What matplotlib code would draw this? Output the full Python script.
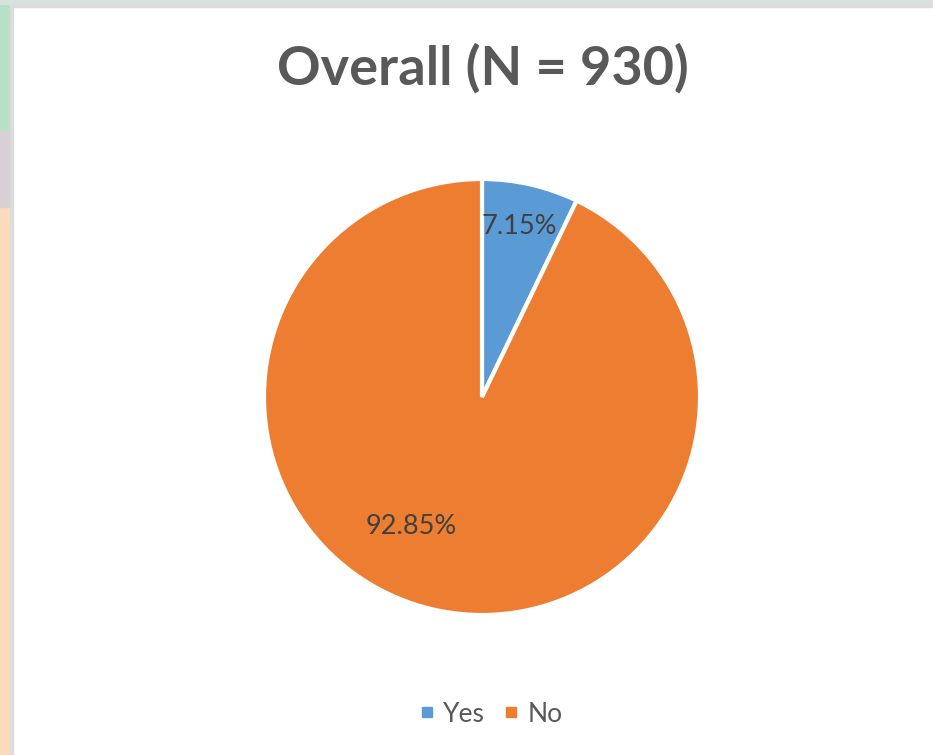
import matplotlib.pyplot as plt
from matplotlib.patches import Rectangle
from matplotlib.lines import Line2D

# survey answer shares (percent)
labels = ["Yes", "No"]
shares = [7.15, 92.85]
colors = ["#5b9bd5", "#ed7d31"]
title = "Overall (N = 930)"

W, H = 933, 755
fig = plt.figure(figsize=(W / 100, H / 100), dpi=100)
fig.patch.set_facecolor("white")

# window edge behind the chart card
fig.patches.extend([
    Rectangle((0, 0), 10, 548, transform=None, color="#fadcbc", zorder=0),
    Rectangle((0, 548), 10, 77, transform=None, color="#d8d0d4", zorder=0),
    Rectangle((0, 625), 10, 130, transform=None, color="#b8e0c8", zorder=0),
    Rectangle((10, 0), 3, 750, transform=None, color="#dcdcdc", zorder=0),
    Rectangle((0, 751), W, 4, transform=None, color="#d4e4dc", zorder=0),
    Rectangle((10, 748), W, 3, transform=None, color="#dcdcdc", zorder=0),
])

ax = fig.add_axes([0, 0, 1, 1])
ax.set_xlim(0, W)
ax.set_ylim(0, H)
ax.set_aspect("equal")
ax.axis("off")

wedges, texts, autotexts = ax.pie(
    shares, colors=colors, center=(482, H - 397), radius=218,
    startangle=90, counterclock=False,
    autopct=lambda p: f"{p:.2f}%",
    wedgeprops=dict(edgecolor="white", linewidth=3),
    textprops=dict(fontsize=19.5, color="#404040", family="Lato"),
)
ax.set_xlim(0, W)
ax.set_ylim(0, H)

# label placement used by the spreadsheet's best-fit layout
autotexts[0].set_position((519, H - 226))
autotexts[1].set_position((411, H - 526))

ax.text(483, H - 68, title, ha="center", va="center", fontsize=39,
        fontweight="bold", color="#595959", family="Lato")

handles = [Line2D([], [], marker="s", linestyle="none", markersize=7,
                  markerfacecolor=c, markeredgecolor=c) for c in colors]
ax.legend(handles, labels, loc="center", bbox_to_anchor=(487 / W, 41 / H),
          ncol=2, frameon=False, handletextpad=0.0, handlelength=1.2,
          columnspacing=0.4, prop=dict(family="Lato", size=19),
          labelcolor="#595959")

fig.savefig("out.png", dpi=100)
